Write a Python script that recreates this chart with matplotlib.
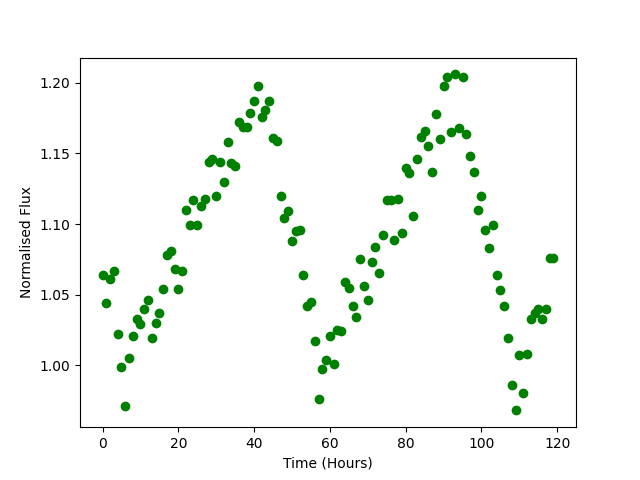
import numpy as np
import matplotlib
matplotlib.use("Agg")
import matplotlib.pyplot as plt

hours = list(range(120))
flux = [1.064, 1.044, 1.061, 1.067, 1.022, 0.999, 0.971, 1.005, 1.021, 1.033,
        1.029, 1.040, 1.046, 1.019, 1.030, 1.037, 1.054, 1.078, 1.081, 1.068,
        1.054, 1.067, 1.110, 1.099, 1.117, 1.099, 1.113, 1.118, 1.144, 1.146,
        1.120, 1.144, 1.130, 1.158, 1.143, 1.141, 1.172, 1.169, 1.169, 1.179,
        1.187, 1.198, 1.176, 1.181, 1.187, 1.161, 1.159, 1.120, 1.104, 1.109,
        1.088, 1.095, 1.096, 1.064, 1.042, 1.045, 1.017, 0.976, 0.997, 1.004,
        1.021, 1.001, 1.025, 1.024, 1.059, 1.055, 1.042, 1.034, 1.075, 1.056,
        1.046, 1.073, 1.084, 1.065, 1.092, 1.117, 1.117, 1.089, 1.118, 1.094,
        1.140, 1.136, 1.106, 1.146, 1.162, 1.166, 1.155, 1.137, 1.178, 1.160,
        1.198, 1.204, 1.165, 1.206, 1.168, 1.204, 1.164, 1.148, 1.137, 1.110,
        1.120, 1.096, 1.083, 1.099, 1.064, 1.053, 1.042, 1.019, 0.986, 0.968,
        1.007, 0.980, 1.008, 1.033, 1.037, 1.040, 1.033, 1.040, 1.076, 1.076]

fig, ax = plt.subplots(figsize=(6.4, 4.8), dpi=100)
ax.plot(hours, flux, 'o', color='green')
ax.set_xlabel('Time (Hours)')
ax.set_ylabel('Normalised Flux')
fig.savefig('out.png')
